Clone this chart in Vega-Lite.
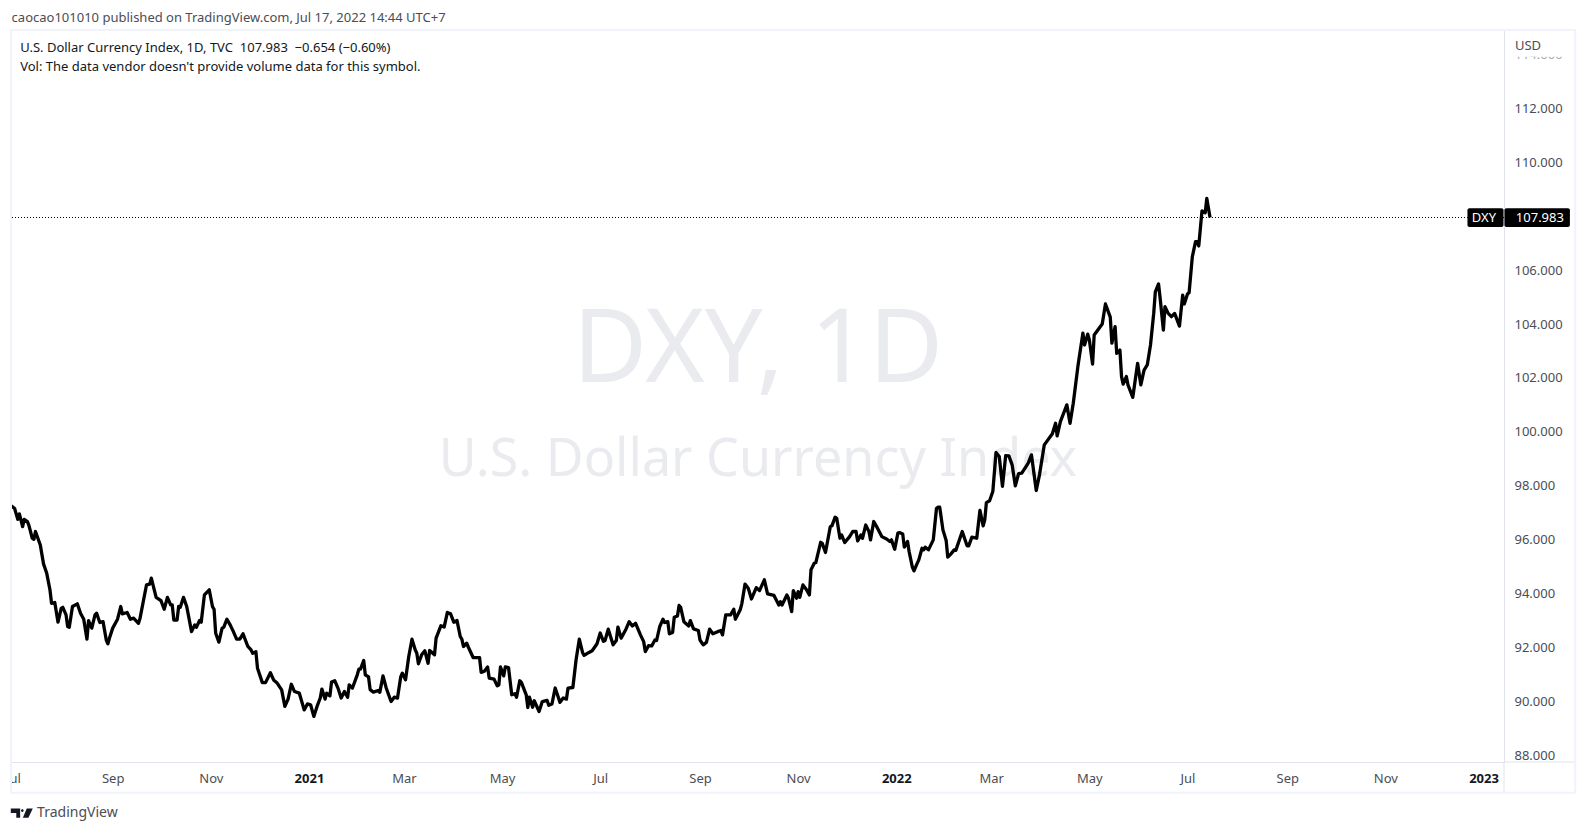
{
  "$schema": "https://vega.github.io/schema/vega-lite/v6.json",
  "width": 1493,
  "height": 732,
  "padding": {"left": 11, "top": 30, "right": 83, "bottom": 71},
  "autosize": "none",
  "background": "#ffffff",
  "view": {"stroke": null},
  "config": {"font": "Noto Sans"},
  "resolve": {"axis": {"x": "independent", "y": "independent"}},
  "datasets": {
    "dxy": [
      {"date":"2020-06-30","close":97.3},{"date":"2020-07-01","close":97.25},{"date":"2020-07-02","close":97.21},{"date":"2020-07-04","close":96.8},{"date":"2020-07-05","close":97.0},{"date":"2020-07-07","close":96.53},{"date":"2020-07-08","close":96.8},{"date":"2020-07-10","close":96.72},{"date":"2020-07-11","close":96.56},{"date":"2020-07-13","close":96.1},{"date":"2020-07-14","close":96.06},{"date":"2020-07-15","close":96.35},{"date":"2020-07-18","close":95.85},{"date":"2020-07-20","close":95.15},{"date":"2020-07-22","close":94.8},{"date":"2020-07-24","close":94.19},{"date":"2020-07-25","close":93.69},{"date":"2020-07-27","close":93.72},{"date":"2020-07-29","close":92.99},{"date":"2020-07-31","close":93.5},
      {"date":"2020-08-01","close":93.54},{"date":"2020-08-03","close":93.26},{"date":"2020-08-04","close":92.83},{"date":"2020-08-05","close":92.8},{"date":"2020-08-07","close":93.57},{"date":"2020-08-10","close":93.67},{"date":"2020-08-12","close":93.32},{"date":"2020-08-14","close":93.1},{"date":"2020-08-16","close":92.36},{"date":"2020-08-17","close":93.05},{"date":"2020-08-19","close":92.77},{"date":"2020-08-21","close":93.26},{"date":"2020-08-22","close":93.32},{"date":"2020-08-24","close":92.98},{"date":"2020-08-26","close":93.01},{"date":"2020-08-28","close":92.33},{"date":"2020-08-29","close":92.19},{"date":"2020-08-30","close":92.4},
      {"date":"2020-09-01","close":92.77},{"date":"2020-09-04","close":93.1},{"date":"2020-09-06","close":93.57},{"date":"2020-09-07","close":93.3},{"date":"2020-09-10","close":93.35},{"date":"2020-09-12","close":93.1},{"date":"2020-09-14","close":93.14},{"date":"2020-09-17","close":92.95},{"date":"2020-09-18","close":93.14},{"date":"2020-09-21","close":94.06},{"date":"2020-09-22","close":94.37},{"date":"2020-09-24","close":94.4},{"date":"2020-09-25","close":94.62},{"date":"2020-09-28","close":93.91},
      {"date":"2020-10-01","close":93.79},{"date":"2020-10-03","close":93.47},{"date":"2020-10-05","close":93.91},{"date":"2020-10-07","close":93.63},{"date":"2020-10-08","close":93.63},{"date":"2020-10-09","close":93.07},{"date":"2020-10-11","close":93.07},{"date":"2020-10-12","close":93.57},{"date":"2020-10-13","close":93.54},{"date":"2020-10-15","close":93.91},{"date":"2020-10-17","close":93.57},{"date":"2020-10-20","close":92.64},{"date":"2020-10-22","close":92.89},{"date":"2020-10-23","close":92.8},{"date":"2020-10-25","close":93.05},{"date":"2020-10-26","close":92.99},{"date":"2020-10-28","close":94.0},{"date":"2020-10-31","close":94.19},
      {"date":"2020-11-02","close":93.57},{"date":"2020-11-03","close":93.47},{"date":"2020-11-04","close":92.58},{"date":"2020-11-06","close":92.25},{"date":"2020-11-08","close":92.77},{"date":"2020-11-09","close":92.8},{"date":"2020-11-11","close":93.1},{"date":"2020-11-13","close":92.89},{"date":"2020-11-15","close":92.64},{"date":"2020-11-17","close":92.36},{"date":"2020-11-19","close":92.36},{"date":"2020-11-21","close":92.56},{"date":"2020-11-24","close":92.09},{"date":"2020-11-26","close":91.96},{"date":"2020-11-27","close":91.84},{"date":"2020-11-29","close":91.9},{"date":"2020-11-30","close":91.28},
      {"date":"2020-12-03","close":90.75},{"date":"2020-12-05","close":90.75},{"date":"2020-12-08","close":91.12},{"date":"2020-12-10","close":90.85},{"date":"2020-12-12","close":90.75},{"date":"2020-12-15","close":90.48},{"date":"2020-12-17","close":89.87},{"date":"2020-12-19","close":90.14},{"date":"2020-12-21","close":90.69},{"date":"2020-12-23","close":90.42},{"date":"2020-12-26","close":90.36},{"date":"2020-12-29","close":89.74},{"date":"2020-12-31","close":89.96},
      {"date":"2021-01-02","close":89.93},{"date":"2021-01-04","close":89.5},{"date":"2021-01-06","close":89.87},{"date":"2021-01-08","close":90.18},{"date":"2021-01-09","close":90.51},{"date":"2021-01-11","close":90.14},{"date":"2021-01-12","close":90.36},{"date":"2021-01-14","close":90.26},{"date":"2021-01-15","close":90.77},{"date":"2021-01-17","close":90.82},{"date":"2021-01-19","close":90.55},{"date":"2021-01-21","close":90.18},{"date":"2021-01-23","close":90.42},{"date":"2021-01-25","close":90.21},{"date":"2021-01-26","close":90.67},{"date":"2021-01-28","close":90.55},{"date":"2021-01-31","close":91.04},
      {"date":"2021-02-01","close":91.25},{"date":"2021-02-02","close":91.25},{"date":"2021-02-04","close":91.57},{"date":"2021-02-05","close":91.04},{"date":"2021-02-07","close":90.96},{"date":"2021-02-08","close":90.49},{"date":"2021-02-10","close":90.4},{"date":"2021-02-13","close":90.46},{"date":"2021-02-14","close":90.39},{"date":"2021-02-16","close":91.0},{"date":"2021-02-18","close":90.55},{"date":"2021-02-21","close":90.05},{"date":"2021-02-23","close":90.21},{"date":"2021-02-25","close":90.18},{"date":"2021-02-27","close":90.96},{"date":"2021-02-28","close":91.1},
      {"date":"2021-03-02","close":90.86},{"date":"2021-03-04","close":91.72},{"date":"2021-03-06","close":92.36},{"date":"2021-03-08","close":91.97},{"date":"2021-03-09","close":91.84},{"date":"2021-03-10","close":91.45},{"date":"2021-03-12","close":91.78},{"date":"2021-03-14","close":91.93},{"date":"2021-03-16","close":91.47},{"date":"2021-03-17","close":91.94},{"date":"2021-03-20","close":91.78},{"date":"2021-03-21","close":92.4},{"date":"2021-03-24","close":92.86},{"date":"2021-03-26","close":92.81},{"date":"2021-03-28","close":93.35},{"date":"2021-03-30","close":93.3},
      {"date":"2021-04-01","close":92.99},{"date":"2021-04-03","close":93.05},{"date":"2021-04-05","close":92.46},{"date":"2021-04-06","close":92.36},{"date":"2021-04-07","close":92.09},{"date":"2021-04-09","close":92.21},{"date":"2021-04-10","close":92.07},{"date":"2021-04-13","close":91.68},{"date":"2021-04-17","close":91.68},{"date":"2021-04-18","close":91.13},{"date":"2021-04-20","close":91.17},{"date":"2021-04-22","close":91.33},{"date":"2021-04-23","close":90.92},{"date":"2021-04-26","close":90.88},{"date":"2021-04-28","close":90.63},{"date":"2021-04-29","close":90.67},{"date":"2021-04-30","close":91.33},
      {"date":"2021-05-02","close":91.0},{"date":"2021-05-03","close":91.33},{"date":"2021-05-05","close":91.31},{"date":"2021-05-07","close":90.3},{"date":"2021-05-09","close":90.34},{"date":"2021-05-10","close":90.21},{"date":"2021-05-12","close":90.82},{"date":"2021-05-13","close":90.76},{"date":"2021-05-16","close":90.3},{"date":"2021-05-17","close":89.83},{"date":"2021-05-18","close":90.21},{"date":"2021-05-20","close":89.84},{"date":"2021-05-21","close":90.08},{"date":"2021-05-24","close":89.68},{"date":"2021-05-26","close":90.05},{"date":"2021-05-29","close":90.09},{"date":"2021-05-30","close":89.91},
      {"date":"2021-06-01","close":89.96},{"date":"2021-06-03","close":90.55},{"date":"2021-06-06","close":90.02},{"date":"2021-06-08","close":90.18},{"date":"2021-06-10","close":90.14},{"date":"2021-06-11","close":90.55},{"date":"2021-06-14","close":90.57},{"date":"2021-06-16","close":91.6},{"date":"2021-06-18","close":92.36},{"date":"2021-06-20","close":91.87},{"date":"2021-06-21","close":91.76},{"date":"2021-06-24","close":91.87},{"date":"2021-06-26","close":91.93},{"date":"2021-06-29","close":92.19},
      {"date":"2021-07-01","close":92.59},{"date":"2021-07-03","close":92.28},{"date":"2021-07-04","close":92.31},{"date":"2021-07-06","close":92.73},{"date":"2021-07-09","close":92.15},{"date":"2021-07-11","close":92.31},{"date":"2021-07-12","close":92.81},{"date":"2021-07-14","close":92.4},{"date":"2021-07-17","close":92.73},{"date":"2021-07-19","close":93.01},{"date":"2021-07-21","close":92.85},{"date":"2021-07-23","close":92.95},{"date":"2021-07-26","close":92.52},{"date":"2021-07-28","close":92.27},{"date":"2021-07-29","close":91.9},{"date":"2021-07-31","close":92.12},
      {"date":"2021-08-02","close":92.11},{"date":"2021-08-04","close":92.33},{"date":"2021-08-05","close":92.31},{"date":"2021-08-07","close":92.83},{"date":"2021-08-09","close":93.1},{"date":"2021-08-10","close":92.98},{"date":"2021-08-12","close":93.01},{"date":"2021-08-13","close":92.56},{"date":"2021-08-15","close":92.61},{"date":"2021-08-16","close":93.17},{"date":"2021-08-18","close":93.22},{"date":"2021-08-19","close":93.61},{"date":"2021-08-20","close":93.54},{"date":"2021-08-22","close":93.01},{"date":"2021-08-25","close":92.85},{"date":"2021-08-26","close":93.05},{"date":"2021-08-28","close":92.74},{"date":"2021-08-31","close":92.68},
      {"date":"2021-09-01","close":92.33},{"date":"2021-09-03","close":92.15},{"date":"2021-09-05","close":92.24},{"date":"2021-09-07","close":92.73},{"date":"2021-09-09","close":92.56},{"date":"2021-09-12","close":92.64},{"date":"2021-09-14","close":92.68},{"date":"2021-09-15","close":92.52},{"date":"2021-09-17","close":93.26},{"date":"2021-09-20","close":93.26},{"date":"2021-09-22","close":93.47},{"date":"2021-09-23","close":93.1},{"date":"2021-09-26","close":93.45},{"date":"2021-09-27","close":93.67},{"date":"2021-09-29","close":94.4},
      {"date":"2021-10-01","close":94.25},{"date":"2021-10-03","close":93.85},{"date":"2021-10-06","close":94.27},{"date":"2021-10-08","close":94.16},{"date":"2021-10-11","close":94.56},{"date":"2021-10-13","close":94.04},{"date":"2021-10-17","close":93.98},{"date":"2021-10-20","close":93.63},{"date":"2021-10-21","close":93.75},{"date":"2021-10-22","close":93.63},{"date":"2021-10-25","close":94.0},{"date":"2021-10-26","close":93.88},{"date":"2021-10-28","close":93.38},{"date":"2021-10-29","close":94.16},{"date":"2021-10-31","close":93.88},
      {"date":"2021-11-01","close":94.12},{"date":"2021-11-02","close":93.91},{"date":"2021-11-04","close":94.37},{"date":"2021-11-06","close":94.21},{"date":"2021-11-08","close":94.0},{"date":"2021-11-09","close":94.93},{"date":"2021-11-11","close":95.17},{"date":"2021-11-12","close":95.2},{"date":"2021-11-15","close":95.95},{"date":"2021-11-16","close":95.91},{"date":"2021-11-18","close":95.57},{"date":"2021-11-21","close":96.53},{"date":"2021-11-22","close":96.56},{"date":"2021-11-24","close":96.88},{"date":"2021-11-25","close":96.84},{"date":"2021-11-27","close":96.1},{"date":"2021-11-28","close":96.22},{"date":"2021-11-30","close":95.94},
      {"date":"2021-12-03","close":96.16},{"date":"2021-12-05","close":96.35},{"date":"2021-12-07","close":96.35},{"date":"2021-12-08","close":96.0},{"date":"2021-12-10","close":96.22},{"date":"2021-12-11","close":96.1},{"date":"2021-12-13","close":96.59},{"date":"2021-12-15","close":96.35},{"date":"2021-12-16","close":96.04},{"date":"2021-12-18","close":96.72},{"date":"2021-12-20","close":96.51},{"date":"2021-12-23","close":96.16},{"date":"2021-12-26","close":96.07},{"date":"2021-12-28","close":95.98},{"date":"2021-12-29","close":96.04},{"date":"2021-12-31","close":95.69},
      {"date":"2022-01-02","close":96.29},{"date":"2022-01-03","close":96.31},{"date":"2022-01-05","close":96.26},{"date":"2022-01-06","close":95.77},{"date":"2022-01-08","close":95.98},{"date":"2022-01-09","close":95.6},{"date":"2022-01-11","close":95.03},{"date":"2022-01-12","close":94.89},{"date":"2022-01-14","close":95.17},{"date":"2022-01-15","close":95.3},{"date":"2022-01-17","close":95.73},{"date":"2022-01-18","close":95.67},{"date":"2022-01-19","close":95.77},{"date":"2022-01-21","close":95.67},{"date":"2022-01-24","close":96.04},{"date":"2022-01-26","close":97.21},{"date":"2022-01-27","close":97.25},{"date":"2022-01-28","close":97.25},{"date":"2022-01-30","close":96.41},
      {"date":"2022-02-01","close":96.02},{"date":"2022-02-02","close":95.4},{"date":"2022-02-04","close":95.52},{"date":"2022-02-06","close":95.67},{"date":"2022-02-07","close":95.65},{"date":"2022-02-11","close":96.35},{"date":"2022-02-14","close":95.82},{"date":"2022-02-15","close":95.82},{"date":"2022-02-17","close":96.14},{"date":"2022-02-20","close":96.1},{"date":"2022-02-22","close":97.13},{"date":"2022-02-24","close":96.56},{"date":"2022-02-25","close":96.78},{"date":"2022-02-26","close":97.42},{"date":"2022-02-28","close":97.49},
      {"date":"2022-03-02","close":97.83},{"date":"2022-03-04","close":99.28},{"date":"2022-03-06","close":99.13},{"date":"2022-03-08","close":98.02},{"date":"2022-03-10","close":99.16},{"date":"2022-03-12","close":99.15},{"date":"2022-03-14","close":98.82},{"date":"2022-03-16","close":98.04},{"date":"2022-03-18","close":98.49},{"date":"2022-03-20","close":98.51},{"date":"2022-03-24","close":98.88},{"date":"2022-03-26","close":99.19},{"date":"2022-03-29","close":97.87},{"date":"2022-03-31","close":98.45},
      {"date":"2022-04-03","close":99.56},{"date":"2022-04-08","close":99.97},{"date":"2022-04-10","close":100.36},{"date":"2022-04-11","close":99.89},{"date":"2022-04-13","close":100.42},{"date":"2022-04-17","close":101.04},{"date":"2022-04-19","close":100.36},{"date":"2022-04-21","close":101.1},{"date":"2022-04-24","close":102.52},{"date":"2022-04-27","close":103.7},{"date":"2022-04-28","close":103.26},{"date":"2022-04-30","close":103.66},{"date":"2022-05-01","close":103.45},
      {"date":"2022-05-03","close":102.55},{"date":"2022-05-04","close":103.63},{"date":"2022-05-09","close":104.04},{"date":"2022-05-11","close":104.78},{"date":"2022-05-14","close":104.29},{"date":"2022-05-15","close":103.33},{"date":"2022-05-17","close":103.94},{"date":"2022-05-18","close":102.95},{"date":"2022-05-20","close":103.07},{"date":"2022-05-21","close":102.09},{"date":"2022-05-22","close":101.81},{"date":"2022-05-24","close":102.09},{"date":"2022-05-25","close":101.78},{"date":"2022-05-28","close":101.32},{"date":"2022-05-31","close":102.58},
      {"date":"2022-06-02","close":101.78},{"date":"2022-06-04","close":102.33},{"date":"2022-06-06","close":102.52},{"date":"2022-06-08","close":103.26},{"date":"2022-06-10","close":104.43},{"date":"2022-06-11","close":105.23},{"date":"2022-06-13","close":105.52},{"date":"2022-06-14","close":104.99},{"date":"2022-06-16","close":103.81},{"date":"2022-06-17","close":104.68},{"date":"2022-06-19","close":104.43},{"date":"2022-06-21","close":104.31},{"date":"2022-06-23","close":104.43},{"date":"2022-06-26","close":103.96},{"date":"2022-06-28","close":105.11},{"date":"2022-06-29","close":104.78},
      {"date":"2022-07-01","close":105.15},{"date":"2022-07-02","close":105.2},{"date":"2022-07-04","close":106.53},{"date":"2022-07-06","close":107.09},{"date":"2022-07-07","close":107.09},{"date":"2022-07-08","close":106.93},{"date":"2022-07-10","close":108.23},{"date":"2022-07-12","close":108.16},{"date":"2022-07-13","close":108.69},{"date":"2022-07-15","close":107.983}
    ]
  },
  "layer": [
    {
      "data": {"values": [{"label": "DXY, 1D"}]},
      "mark": {"type": "text", "font": "Noto Sans", "fontSize": 102, "color": "#e9ebee", "align": "center", "baseline": "middle"},
      "encoding": {
        "x": {"datum": {"year": 2021, "month": 10, "date": 7}, "type": "temporal", "axis": null},
        "y": {"datum": 103.05, "type": "quantitative", "axis": null},
        "text": {"field": "label"}
      }
    },
    {
      "data": {"values": [{"label": "U.S. Dollar Currency Index"}]},
      "mark": {"type": "text", "font": "Noto Sans", "fontSize": 52, "color": "#e9ebee", "align": "center", "baseline": "middle"},
      "encoding": {
        "x": {"datum": {"year": 2021, "month": 10, "date": 7}, "type": "temporal", "axis": null},
        "y": {"datum": 99.0, "type": "quantitative", "axis": null},
        "text": {"field": "label"}
      }
    },
    {
      "data": {"values": [{"close": 107.983}]},
      "mark": {"type": "rule", "color": "#000000", "strokeWidth": 1, "strokeDash": [1, 2]},
      "encoding": {"y": {"field": "close", "type": "quantitative", "axis": null}}
    },
    {
      "data": {"name": "dxy"},
      "mark": {"type": "line", "color": "#000000", "strokeWidth": 3.3, "strokeJoin": "round"},
      "encoding": {
        "x": {
          "field": "date",
          "type": "temporal",
          "title": null,
          "scale": {"domain": ["2020-06-29T19:00:00", "2023-01-13T17:00:00"]},
          "axis": {
            "values": [
              {"year": 2020, "month": 7, "date": 1}, {"year": 2020, "month": 9, "date": 1}, {"year": 2020, "month": 11, "date": 1},
              {"year": 2021, "month": 1, "date": 1}, {"year": 2021, "month": 3, "date": 1}, {"year": 2021, "month": 5, "date": 1},
              {"year": 2021, "month": 7, "date": 1}, {"year": 2021, "month": 9, "date": 1}, {"year": 2021, "month": 11, "date": 1},
              {"year": 2022, "month": 1, "date": 1}, {"year": 2022, "month": 3, "date": 1}, {"year": 2022, "month": 5, "date": 1},
              {"year": 2022, "month": 7, "date": 1}, {"year": 2022, "month": 9, "date": 1}, {"year": 2022, "month": 11, "date": 1},
              {"year": 2023, "month": 1, "date": 1}
            ],
            "labelExpr": "month(datum.value) == 0 ? timeFormat(datum.value, '%Y') : timeFormat(datum.value, '%b')",
            "labelFont": "Noto Sans",
            "labelFontSize": 13,
            "labelColor": {"condition": {"test": "month(datum.value) == 0", "value": "#131722"}, "value": "#4a4d55"},
            "labelFontWeight": {"condition": {"test": "month(datum.value) == 0", "value": "bold"}, "value": "normal"},
            "labelPadding": 10,
            "labelOverlap": false,
            "labelFlush": false,
            "ticks": false,
            "grid": false,
            "domainColor": "#e0e3eb",
            "domainWidth": 1
          }
        },
        "y": {
          "field": "close",
          "type": "quantitative",
          "title": null,
          "scale": {"domain": [87.81, 114.93], "nice": false, "zero": false},
          "axis": {
            "orient": "right",
            "values": [88, 90, 92, 94, 96, 98, 100, 102, 104, 106, 110, 112, 114],
            "format": ".3f",
            "labelFont": "Noto Sans",
            "labelFontSize": 13,
            "labelColor": {"condition": {"test": "datum.value == 114", "value": "#a8abb3"}, "value": "#4a4d55"},
            "labelPadding": 10,
            "labelOffset": -1,
            "labelOverlap": false,
            "labelFlush": false,
            "ticks": false,
            "grid": false,
            "domainColor": "#e0e3eb",
            "domainWidth": 1
          }
        }
      }
    },
    {
      "data": {"values": [{"part": "cover"}]},
      "mark": {"type": "rect", "color": "#ffffff"},
      "encoding": {
        "x": {"datum": {"year": 2023, "month": 1, "date": 14, "hours": 12}, "type": "temporal", "axis": null},
        "x2": {"datum": {"year": 2023, "month": 2, "date": 26}},
        "y": {"datum": 114.9, "type": "quantitative", "axis": null},
        "y2": {"datum": 113.94}
      }
    },
    {
      "data": {"values": [{"part": "cover"}]},
      "mark": {"type": "rect", "color": "#ffffff"},
      "encoding": {
        "x": {"datum": {"year": 2020, "month": 6, "date": 22}, "type": "temporal", "axis": null},
        "x2": {"datum": {"year": 2020, "month": 6, "date": 29, "hours": 16}},
        "y": {"datum": 87.8, "type": "quantitative", "axis": null},
        "y2": {"datum": 86.7}
      }
    },
    {
      "data": {"values": [{"part": "frame"}]},
      "mark": {"type": "rect", "fillOpacity": 0, "stroke": "#f0f3fa", "strokeWidth": 2},
      "encoding": {
        "x": {"datum": {"year": 2020, "month": 6, "date": 29, "hours": 19}, "type": "temporal", "axis": null},
        "x2": {"datum": {"year": 2023, "month": 2, "date": 27}},
        "y": {"datum": 114.93, "type": "quantitative", "axis": null},
        "y2": {"datum": 86.67}
      }
    },
    {
      "data": {"values": [{"part": "pane divider"}]},
      "mark": {"type": "rule", "color": "#e0e3eb", "strokeWidth": 1},
      "encoding": {
        "x": {"datum": {"year": 2023, "month": 1, "date": 13, "hours": 17}, "type": "temporal", "axis": null},
        "y": {"datum": 87.81, "type": "quantitative", "axis": null},
        "y2": {"datum": 86.7}
      }
    },
    {
      "data": {"values": [{"part": "pane divider"}]},
      "mark": {"type": "rule", "color": "#e0e3eb", "strokeWidth": 1},
      "encoding": {
        "x": {"datum": {"year": 2023, "month": 1, "date": 13, "hours": 17}, "type": "temporal", "axis": null},
        "x2": {"datum": {"year": 2023, "month": 2, "date": 26, "hours": 12}},
        "y": {"datum": 87.81, "type": "quantitative", "axis": null}
      }
    },
    {
      "data": {"values": [{"label": "DXY"}]},
      "layer": [
        {
          "mark": {"type": "rect", "color": "#000000", "cornerRadius": 2},
          "encoding": {
            "x": {"datum": {"year": 2022, "month": 12, "date": 22}, "type": "temporal", "axis": null},
            "x2": {"datum": {"year": 2023, "month": 1, "date": 13, "hours": 10}},
            "y": {"datum": 108.33, "type": "quantitative", "axis": null},
            "y2": {"datum": 107.63}
          }
        },
        {
          "mark": {"type": "text", "font": "Noto Sans", "fontSize": 13, "color": "#ffffff", "align": "center", "baseline": "middle"},
          "encoding": {
            "x": {"datum": {"year": 2023, "month": 1, "date": 1, "hours": 6}, "type": "temporal", "axis": null},
            "y": {"datum": 107.98, "type": "quantitative", "axis": null},
            "text": {"field": "label"}
          }
        }
      ]
    },
    {
      "data": {"values": [{"label": "107.983"}]},
      "layer": [
        {
          "mark": {"type": "rect", "color": "#000000", "cornerRadius": 2},
          "encoding": {
            "x": {"datum": {"year": 2023, "month": 1, "date": 14}, "type": "temporal", "axis": null},
            "x2": {"datum": {"year": 2023, "month": 2, "date": 23, "hours": 16}},
            "y": {"datum": 108.33, "type": "quantitative", "axis": null},
            "y2": {"datum": 107.63}
          }
        },
        {
          "mark": {"type": "text", "font": "Noto Sans", "fontSize": 13, "color": "#ffffff", "align": "center", "baseline": "middle"},
          "encoding": {
            "x": {"datum": {"year": 2023, "month": 2, "date": 5}, "type": "temporal", "axis": null},
            "y": {"datum": 107.98, "type": "quantitative", "axis": null},
            "text": {"field": "label"}
          }
        }
      ]
    },
    {
      "data": {"values": [{"label": "USD"}]},
      "mark": {"type": "text", "font": "Noto Sans", "fontSize": 13, "color": "#4a4d55", "align": "left", "baseline": "middle"},
      "encoding": {
        "x": {"datum": {"year": 2023, "month": 1, "date": 20, "hours": 12}, "type": "temporal", "axis": null},
        "y": {"datum": 114.33, "type": "quantitative", "axis": null},
        "text": {"field": "label"}
      }
    },
    {
      "data": {"values": [{"label": "caocao101010 published on TradingView.com, Jul 17, 2022 14:44 UTC+7"}]},
      "mark": {"type": "text", "font": "Noto Sans", "fontSize": 13, "color": "#4a4d55", "align": "left", "baseline": "middle"},
      "encoding": {
        "x": {"datum": {"year": 2020, "month": 6, "date": 30, "hours": 4}, "type": "temporal", "axis": null},
        "y": {"datum": 115.37, "type": "quantitative", "axis": null},
        "text": {"field": "label"}
      }
    },
    {
      "data": {"values": [{"label": "U.S. Dollar Currency Index, 1D, TVC\u00a0\u00a0107.983\u00a0\u00a0−0.654 (−0.60%)"}]},
      "mark": {"type": "text", "font": "Noto Sans", "fontSize": 13, "color": "#131722", "align": "left", "baseline": "middle"},
      "encoding": {
        "x": {"datum": {"year": 2020, "month": 7, "date": 5, "hours": 12}, "type": "temporal", "axis": null},
        "y": {"datum": 114.26, "type": "quantitative", "axis": null},
        "text": {"field": "label"}
      }
    },
    {
      "data": {"values": [{"label": "Vol: The data vendor doesn't provide volume data for this symbol."}]},
      "mark": {"type": "text", "font": "Noto Sans", "fontSize": 13, "color": "#131722", "align": "left", "baseline": "middle"},
      "encoding": {
        "x": {"datum": {"year": 2020, "month": 7, "date": 5, "hours": 12}, "type": "temporal", "axis": null},
        "y": {"datum": 113.57, "type": "quantitative", "axis": null},
        "text": {"field": "label"}
      }
    },
    {
      "data": {"values": [{"brand": "TradingView"}]},
      "layer": [
        {
          "mark": {"type": "point", "filled": true, "color": "#131722", "opacity": 1, "size": 484, "strokeWidth": 0, "shape": "M-1,-0.42 H-0.15 V0.42 H-0.5 V0 H-1 Z M-0.07,-0.22 a0.12,0.12 0 1,1 0.24,0 a0.12,0.12 0 1,1 -0.24,0 Z M0.45,-0.42 H1 L0.6,0.42 H0.1 Z"},
          "encoding": {
            "x": {"datum": {"year": 2020, "month": 7, "date": 6, "hours": 12}, "type": "temporal", "axis": null},
            "y": {"datum": 85.92, "type": "quantitative", "axis": null}
          }
        },
        {
          "mark": {"type": "text", "font": "Noto Sans", "fontSize": 14, "color": "#4a4d55", "align": "left", "baseline": "middle"},
          "encoding": {
            "x": {"datum": {"year": 2020, "month": 7, "date": 16}, "type": "temporal", "axis": null},
            "y": {"datum": 85.92, "type": "quantitative", "axis": null},
            "text": {"field": "brand"}
          }
        }
      ]
    }
  ]
}
